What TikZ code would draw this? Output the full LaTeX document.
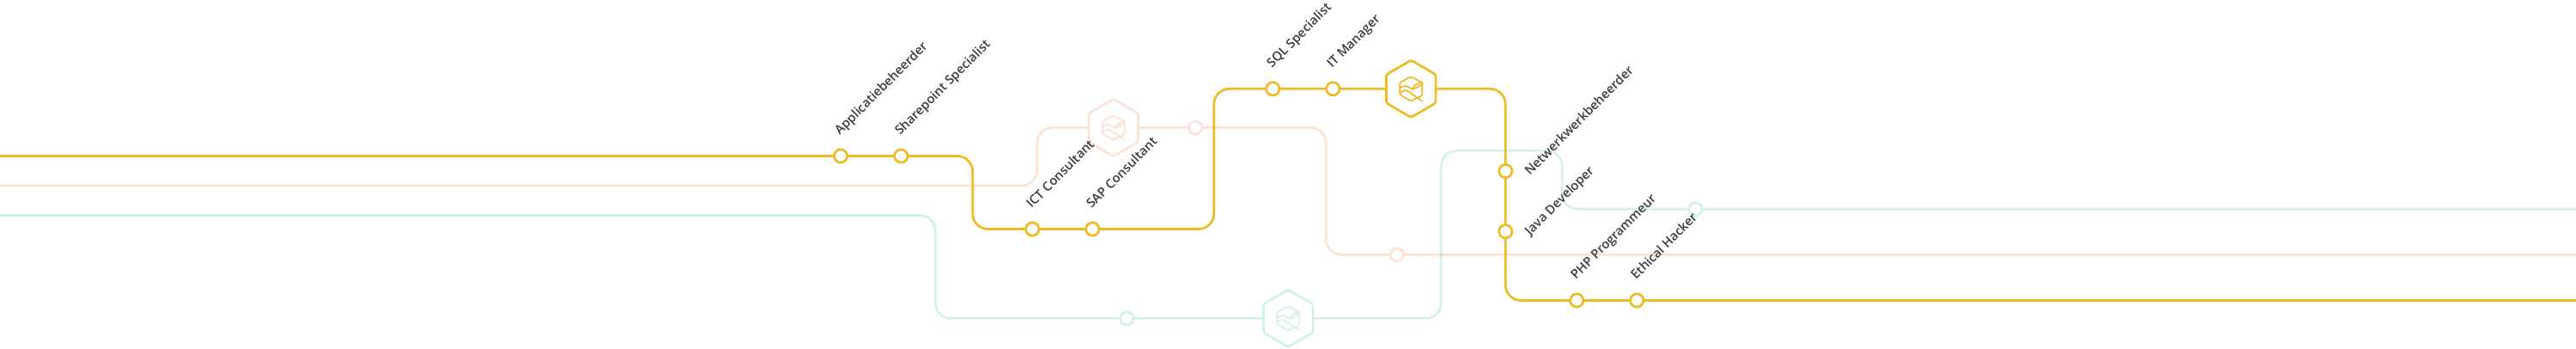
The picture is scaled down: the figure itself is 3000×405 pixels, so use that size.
\documentclass[tikz,border=0pt]{standalone}
\usepackage{fontspec}
\setmainfont{Open Sans Semibold}
\usetikzlibrary{shapes.geometric}
\definecolor{cyel}{HTML}{EEBB27}
\definecolor{cpink}{HTML}{FCE2D5}
\definecolor{cteal}{HTML}{D2F1EC}
\definecolor{ctext}{HTML}{3C3C3C}
\tikzset{
  x=1pt,y=-1pt,
  track/.style={line width=2.7pt,rounded corners=18pt},
  station/.style={circle,draw=#1,fill=white,line width=2.7pt,minimum size=15.3pt,inner sep=0pt,outer sep=0pt},
  hexa/.style={regular polygon,regular polygon sides=6,shape border rotate=30,draw=#1,fill=white,line width=2.7pt,minimum size=66.5pt,inner sep=0pt,outer sep=0pt,rounded corners=2pt},
  lab/.style={rotate=45,anchor=base west,inner sep=0pt,text=ctext,font=\fontsize{14.8}{18}\selectfont},
  pics/logo/.style={code={
    \begin{scope}[draw=#1,line width=1.7pt,line cap=round,line join=round]
    \draw[rounded corners=1.5pt] (13,-2) -- (13,-7) -- (0,-14.2) -- (-13,-7) -- (-13,7) -- (0,14.2) -- (6,11);
    \draw[rounded corners=1.5pt] (13,-7) -- (13,7.5) -- (8,10.5);
    \draw[rounded corners=2pt] (-13,-1) -- (-6,-4) -- (2,1) -- (13,-5);
    \draw[rounded corners=2pt] (-13,5) -- (-6,1) -- (13,14.5);
    \draw[rounded corners=2pt] (2,1) -- (2.5,-3) -- (13,-8);
    \end{scope}}}
}
\begin{document}
\begin{tikzpicture}
\useasboundingbox (0,0) rectangle (3000,405);
\coordinate (t0) at (0,250.5);
\coordinate (t1) at (1089.3,250.5);
\coordinate (t2) at (1089.3,370.3);
\coordinate (t3) at (1678.3,370.3);
\coordinate (t4) at (1678.3,175.3);
\coordinate (t5) at (1819.3,175.3);
\coordinate (t6) at (1819.3,243.3);
\coordinate (t7) at (3000,243.3);
\coordinate (p0) at (0,216);
\coordinate (p1) at (1207.7,216);
\coordinate (p2) at (1207.7,148.5);
\coordinate (p3) at (1544.3,148.5);
\coordinate (p4) at (1544.3,296.3);
\coordinate (p5) at (3000,296.3);
\coordinate (y0) at (0,181.5);
\coordinate (y1) at (1132.7,181.5);
\coordinate (y2) at (1132.7,266.5);
\coordinate (y3) at (1413.7,266.5);
\coordinate (y4) at (1413.7,103.3);
\coordinate (y5) at (1753.3,103.3);
\coordinate (y6) at (1753.3,349.5);
\coordinate (y7) at (3000,349.5);
\draw[track,cteal] (t0) -- (t1) -- (t2) -- (t3) -- (t4) -- (t5) -- (t6) -- (t7);
\draw[track,cpink,blend mode=multiply] (p0) -- (p1) -- (p2) -- (p3) -- (p4) -- (p5);
\draw[track,cyel] (y0) -- (y1) -- (y2) -- (y3) -- (y4) -- (y5) -- (y6) -- (y7);
\node[hexa=cteal] (hT) at (1500.3,370.3) {};
\node[hexa=cpink] (hP) at (1296.7,148.5) {};
\node[hexa=cyel] (hY) at (1643.3,103.3) {};
\pic at (hT.center) {logo=cteal};
\pic at (hP.center) {logo=cpink};
\pic at (hY.center) {logo=cyel};
\node[station=cteal] (sT1) at (1312.3,370.3) {};
\node[station=cteal] (sT2) at (1974.3,243.3) {};
\node[station=cpink] (sP1) at (1392.3,148.5) {};
\node[station=cpink] (sP2) at (1626.7,296.3) {};
\node[station=cyel] (s1) at (979,181.5) {};
\node[station=cyel] (s2) at (1049.3,181.5) {};
\node[station=cyel] (s3) at (1202.3,266.5) {};
\node[station=cyel] (s4) at (1272.3,266.5) {};
\node[station=cyel] (s5) at (1482.3,103.3) {};
\node[station=cyel] (s6) at (1552.3,103.3) {};
\node[station=cyel] (s7) at (1753.3,199) {};
\node[station=cyel] (s8) at (1753.3,269.3) {};
\node[station=cyel] (s9) at (1836.3,349.5) {};
\node[station=cyel] (s10) at (1906.3,349.5) {};
\node[lab] (l1) at ([shift={(-1,-23.5)}]s1) {Applicatiebeheerder};
\node[lab] (l2) at ([shift={(-1,-23.5)}]s2) {Sharepoint Specialist};
\node[lab] (l3) at ([shift={(-1,-23.5)}]s3) {ICT Consultant};
\node[lab] (l4) at ([shift={(-1,-23.5)}]s4) {SAP Consultant};
\node[lab] (l5) at ([shift={(-1,-23.5)}]s5) {SQL Specialist};
\node[lab] (l6) at ([shift={(-1,-23.5)}]s6) {IT Manager};
\node[lab] (l7) at ([shift={(28.5,5.5)}]s7) {Netwerkwerkbeheerder};
\node[lab] (l8) at ([shift={(28.5,5.5)}]s8) {Java Developer};
\node[lab] (l9) at ([shift={(-1,-23.5)}]s9) {PHP Programmeur};
\node[lab] (l10) at ([shift={(-1,-23.5)}]s10) {Ethical Hacker};
\end{tikzpicture}
\end{document}
